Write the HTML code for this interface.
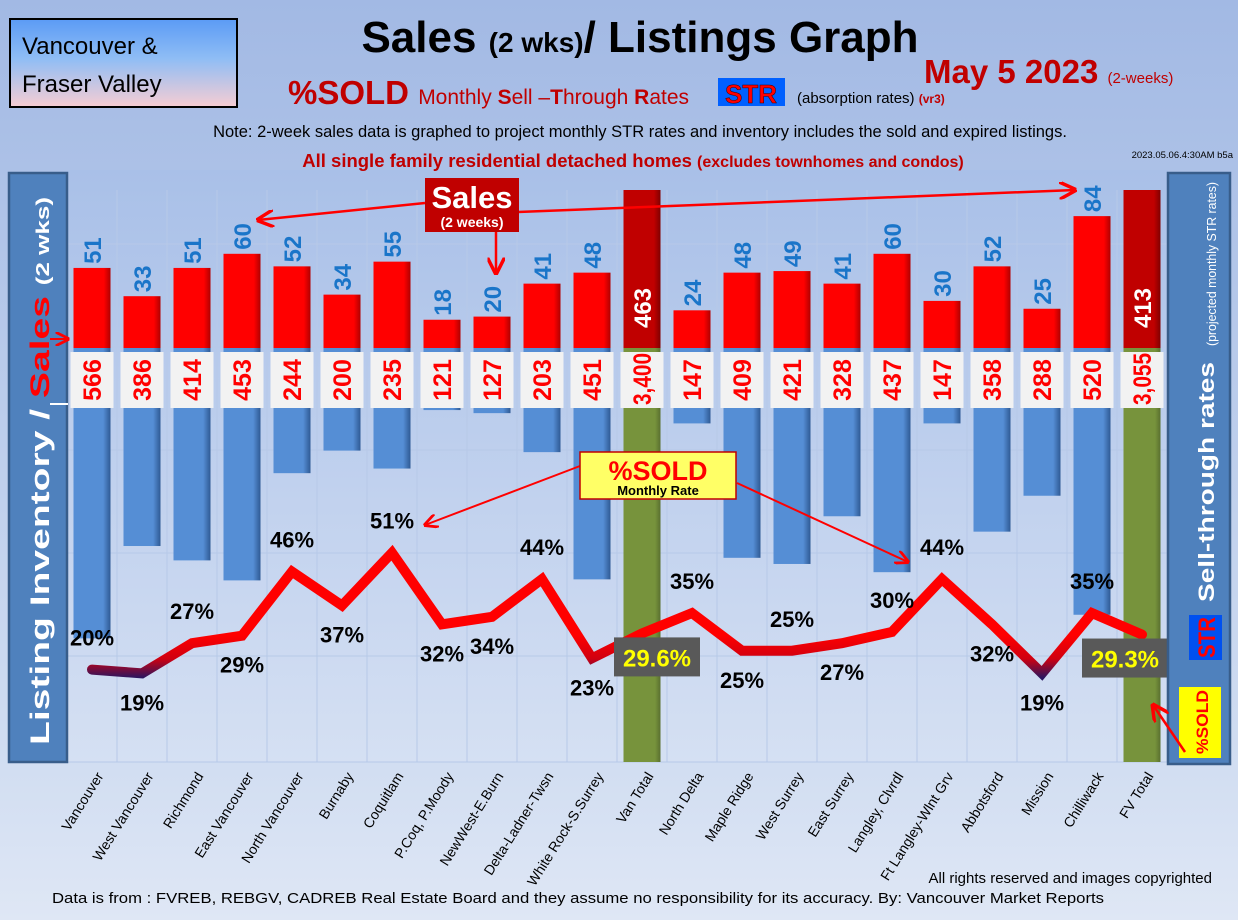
<!DOCTYPE html>
<html><head><meta charset="utf-8"><style>
html,body{margin:0;padding:0;background:#a6bde6;}
svg{display:block;font-family:"Liberation Sans",sans-serif;}
</style></head><body>
<svg id="chart" width="1238" height="920" viewBox="0 0 1238 920" xmlns="http://www.w3.org/2000/svg">
<defs>
<linearGradient id="bg" x1="0" y1="0" x2="0" y2="1"><stop offset="0" stop-color="#a2b9e4"/><stop offset="0.8" stop-color="#cfdcf1"/><stop offset="1" stop-color="#dfe7f5"/></linearGradient>
<linearGradient id="plotbg" x1="0" y1="0" x2="0" y2="1"><stop offset="0" stop-color="#a9c0e8"/><stop offset="1" stop-color="#d5e0f3"/></linearGradient>
<linearGradient id="boxg" x1="0" y1="0" x2="0" y2="1"><stop offset="0" stop-color="#5b9bf5"/><stop offset="0.45" stop-color="#8fbdf5"/><stop offset="1" stop-color="#f7cdd3"/></linearGradient>
<linearGradient id="blueg" x1="0" y1="0" x2="1" y2="0"><stop offset="0" stop-color="#558ed5"/><stop offset="0.8" stop-color="#558ed5"/><stop offset="1" stop-color="#2f5a94"/></linearGradient>
<linearGradient id="redg" x1="0" y1="0" x2="1" y2="0"><stop offset="0" stop-color="#ff0000"/><stop offset="0.82" stop-color="#ff0000"/><stop offset="1" stop-color="#b00000"/></linearGradient>
<linearGradient id="dredg" x1="0" y1="0" x2="1" y2="0"><stop offset="0" stop-color="#c00000"/><stop offset="0.82" stop-color="#c00000"/><stop offset="1" stop-color="#800000"/></linearGradient>
<linearGradient id="greeng" x1="0" y1="0" x2="1" y2="0"><stop offset="0" stop-color="#77933c"/><stop offset="0.85" stop-color="#77933c"/><stop offset="1" stop-color="#5a7030"/></linearGradient>
<linearGradient id="lineg" gradientUnits="userSpaceOnUse" x1="0" y1="635" x2="0" y2="678"><stop offset="0" stop-color="#ff0000"/><stop offset="0.55" stop-color="#d00010"/><stop offset="1" stop-color="#2a1660"/></linearGradient>
<marker id="arr" viewBox="0 0 10 10" refX="9" refY="5" markerWidth="7" markerHeight="7" orient="auto-start-reverse"><path d="M0,0 L10,5 L0,10" fill="none" stroke="#ff0000" stroke-width="2"/></marker>
</defs>
<rect x="0" y="0" width="1238" height="920" fill="url(#bg)"/>
<rect x="68" y="170" width="1100" height="592" fill="url(#plotbg)"/>
<g id="grid"></g>
<g id="bars"></g>
<g id="line"></g>
<g id="labels"></g>

<!-- header -->
<rect x="10" y="19" width="227" height="88" fill="url(#boxg)" stroke="#000" stroke-width="2"/>
<text x="22" y="54" font-size="24" fill="#000">Vancouver &amp;</text>
<text x="22" y="92" font-size="24" fill="#000">Fraser Valley</text>
<text x="640" y="52" text-anchor="middle" font-size="44" font-weight="bold" fill="#000">Sales <tspan font-size="28">(2 wks)</tspan>/ Listings Graph</text>
<text x="288" y="104" font-size="33" font-weight="bold" fill="#c00000">%SOLD <tspan font-size="21" font-weight="normal">Monthly <tspan font-weight="bold">S</tspan>ell –<tspan font-weight="bold">T</tspan>hrough <tspan font-weight="bold">R</tspan>ates</tspan></text>
<rect x="718" y="78" width="67" height="28" fill="#0060ff"/>
<text x="751" y="103" text-anchor="middle" font-size="26" font-weight="bold" fill="#ff0000" stroke="#300" stroke-width="0.5">STR</text>
<text x="797" y="103" font-size="15" fill="#000">(absorption rates) <tspan font-size="12" font-weight="bold" fill="#c00000">(vr3)</tspan></text>
<text x="924" y="83" font-size="33" font-weight="bold" fill="#c00000">May 5 2023 <tspan font-size="15" font-weight="normal">(2-weeks)</tspan></text>
<text x="640" y="137" text-anchor="middle" font-size="16.5" fill="#000">Note: 2-week sales data is graphed to project monthly STR rates and inventory includes the sold and expired listings.</text>
<text x="633" y="167" text-anchor="middle" font-size="18.5" font-weight="bold" fill="#c00000">All single family residential detached homes <tspan font-size="16">(excludes townhomes and condos)</tspan></text>
<text x="1233" y="158" text-anchor="end" font-size="9.5" fill="#000">2023.05.06.4:30AM b5a</text>

<!-- left panel -->
<rect x="9" y="173" width="58" height="589" fill="#4f81bd" stroke="#385d8a" stroke-width="2.5"/>
<text transform="translate(49,745) rotate(-90)" text-anchor="start" font-size="27" font-weight="bold" fill="#fff" textLength="548" lengthAdjust="spacingAndGlyphs">Listing Inventory / <tspan fill="#ff0000">Sales</tspan> <tspan font-size="18">(2  wks)</tspan></text>
<path d="M50,339 L68,339" stroke="#ff0000" stroke-width="2" marker-end="url(#arr)"/>
<path d="M50,404 L68,404" stroke="#fff" stroke-width="2"/>

<!-- right panel -->
<rect x="1168" y="173" width="62" height="591" fill="#4f81bd" stroke="#385d8a" stroke-width="2.5"/>
<text transform="translate(1214,602) rotate(-90)" text-anchor="start" font-size="22" font-weight="bold" fill="#fff" textLength="240" lengthAdjust="spacingAndGlyphs">Sell-through rates</text>
<text transform="translate(1216,346) rotate(-90)" text-anchor="start" font-size="13" fill="#fff" textLength="164" lengthAdjust="spacingAndGlyphs">(projected monthly STR rates)</text>
<rect x="1189" y="615" width="33" height="45" fill="#0050f0"/>
<text transform="translate(1215,658) rotate(-90)" text-anchor="start" font-size="24" font-weight="bold" fill="#ff0000" textLength="41" lengthAdjust="spacingAndGlyphs">STR</text>
<rect x="1179" y="687" width="42" height="71" fill="#ffff00"/>
<text transform="translate(1208,754) rotate(-90)" text-anchor="start" font-size="17" font-weight="bold" fill="#ff0000" textLength="64" lengthAdjust="spacingAndGlyphs">%SOLD</text>
<path d="M1185,752 L1153,705" stroke="#ff0000" stroke-width="2.5" marker-end="url(#arr)"/>

<!-- annotations -->
<path d="M425,203 L258,220" stroke="#ff0000" stroke-width="2.5" marker-end="url(#arr)"/>
<path d="M518,212 L1075,190" stroke="#ff0000" stroke-width="2.5" marker-end="url(#arr)"/>
<path d="M496,232 L496,273" stroke="#ff0000" stroke-width="2.5" marker-end="url(#arr)"/>
<rect x="425" y="178" width="94" height="54" fill="#c00000"/>
<text x="472" y="208" text-anchor="middle" font-size="31" font-weight="bold" fill="#fff">Sales</text>
<text x="472" y="227" text-anchor="middle" font-size="14" font-weight="bold" fill="#fff">(2 weeks)</text>
<path d="M580,466 L425,525" stroke="#ff0000" stroke-width="2" marker-end="url(#arr)"/>
<path d="M737,483 L908,562" stroke="#ff0000" stroke-width="2" marker-end="url(#arr)"/>
<rect x="580" y="452" width="156" height="47" fill="#ffff66" stroke="#c00000" stroke-width="1.5"/>
<text x="658" y="480" text-anchor="middle" font-size="27" font-weight="bold" fill="#ff0000">%SOLD</text>
<text x="658" y="495" text-anchor="middle" font-size="13" font-weight="bold" fill="#000">Monthly Rate</text>

<!-- footer -->
<text x="1212" y="883" text-anchor="end" font-size="15" fill="#000">All rights reserved and  images copyrighted</text>
<text x="52" y="903" font-size="15" fill="#000" textLength="1052" lengthAdjust="spacingAndGlyphs">Data is from : FVREB, REBGV, CADREB Real Estate Board and they assume no responsibility for its accuracy. By: Vancouver Market Reports</text>
<g id="xlabels"></g>
</svg>
<script>
const categories = ["Vancouver","West Vancouver","Richmond","East Vancouver","North Vancouver","Burnaby","Coquitlam","P.Coq, P.Moody","NewWest-E.Burn","Delta-Ladner-Twsn","White Rock-S.Surrey","Van Total","North Delta","Maple Ridge","West Surrey","East Surrey","Langley, Clvrdl","Ft Langley-Wlnt Grv","Abbotsford","Mission","Chilliwack","FV Total"];
const sales = [51,33,51,60,52,34,55,18,20,41,48,463,24,48,49,41,60,30,52,25,84,413];
const inventory = [566,386,414,453,244,200,235,121,127,203,451,3400,147,409,421,328,437,147,358,288,520,3055];
const inventoryLabels = ["566","386","414","453","244","200","235","121","127","203","451","3,400","147","409","421","328","437","147","358","288","520","3,055"];
const soldPct = [20,19,27,29,46,37,51,32,34,44,23,29.6,35,25,25,27,30,44,32,19,35,29.3];
const pctLabels = ["20%","19%","27%","29%","46%","37%","51%","32%","34%","44%","23%","29.6%","35%","25%","25%","27%","30%","44%","32%","19%","35%","29.3%"];
const pctPlacement = ["a","b","a","b","a","b","a","b","b","a","b","boxR","a","b","a","b","a","a","b","b","a","boxL"];
const isTotal = [0,0,0,0,0,0,0,0,0,0,0,1,0,0,0,0,0,0,0,0,0,1];

const NS="http://www.w3.org/2000/svg";
const PLOT_TOP=190, PLOT_BOT=762, BASE=348;
function xC(i){return 92+i*50;}
function ySales(v){return Math.max(PLOT_TOP, BASE - v*1.57);}
function yInv(v){return Math.min(PLOT_BOT, BASE + v*0.513);}
function yPct(v){return 745 - v*3.77;}
function mk(tag,attrs,parent){const e=document.createElementNS(NS,tag);for(const k in attrs)e.setAttribute(k,attrs[k]);parent.appendChild(e);return e;}

const grid=document.getElementById('grid');
for(let i=0;i<=categories.length;i++){
  const l=mk('line',{x1:67+i*50,x2:67+i*50,y1:190,y2:762,stroke:'#b7c9e8','stroke-width':1},grid);
  
  
}
[244,347,450,553,656,762].forEach(y=>{
  const l=mk('line',{x1:68,x2:1168,y1:y,y2:y,stroke:'#b7c9e8','stroke-width':1},grid);
  
  
});

const bars=document.getElementById('bars');
const labels=document.getElementById('labels');
const W=37;
categories.forEach((c,i)=>{
  const x=xC(i)-W/2;
  const yb=yInv(inventory[i]);
  const ib=mk('rect',{x:x,y:BASE,width:W,height:yb-BASE,fill:isTotal[i]?'url(#greeng)':'url(#blueg)'},bars);
  
  
  const ys=ySales(sales[i]);
  const sb=mk('rect',{x:x,y:ys,width:W,height:BASE-ys,fill:isTotal[i]?'url(#dredg)':'url(#redg)'},bars);
  
  
  let st;
  if(isTotal[i]){
    st=mk('text',{transform:`translate(${xC(i)+9},${BASE-40}) rotate(-90)`,'text-anchor':'middle','font-size':24,'font-weight':'bold',fill:'#fff'},labels);
  } else {
    st=mk('text',{transform:`translate(${xC(i)+9},${ys-4}) rotate(-90)`,'text-anchor':'start','font-size':24,'font-weight':'bold',fill:'#1a75c9'},labels);
  }
  st.textContent=String(sales[i]);
  
  
  const bw=43;
  const bx=mk('rect',{x:xC(i)-bw/2,y:352,width:bw,height:56,fill:'#f2f2f2'},labels);
  
  
  const long=inventoryLabels[i].length>3;
  const it=mk('text',{transform:`translate(${xC(i)+9},${long?405:380}) rotate(-90)`,'text-anchor':long?'start':'middle','font-size':25,'font-weight':'bold',fill:'#ff0000'},labels);
  if(long){it.setAttribute('textLength','52');it.setAttribute('lengthAdjust','spacingAndGlyphs');}
  it.textContent=inventoryLabels[i];
  
  
  const xl=mk('text',{transform:`translate(${xC(i)+12},776) rotate(-58)`,'text-anchor':'end','font-size':14,fill:'#000'},document.getElementById('xlabels'));
  xl.textContent=c;
  
  
});

const lineG=document.getElementById('line');
const pts=soldPct.map((v,i)=>xC(i)+','+yPct(v)).join(' ');
const pl=mk('polyline',{points:pts,fill:'none',stroke:'url(#lineg)','stroke-width':10,'stroke-linejoin':'miter','stroke-linecap':'round'},lineG);


soldPct.forEach((v,i)=>{
  const y=yPct(v);
  const p=pctPlacement[i];
  if(p==='boxR'||p==='boxL'){
    const bx0 = p==='boxR' ? xC(i)-28 : xC(i)-60;
    const b=mk('rect',{x:bx0,y:y+4,width:86,height:39,fill:'#595959'},lineG);
    
    
    const t=mk('text',{x:bx0+43,y:y+33,'text-anchor':'middle','font-size':24,'font-weight':'bold',fill:'#ffff00'},lineG);
    t.textContent=pctLabels[i];
    
    
  } else {
    const ty=p==='a'? y-24 : y+37;
    const t=mk('text',{x:xC(i),y:ty,'text-anchor':'middle','font-size':22,'font-weight':'bold',fill:'#000'},lineG);
    t.textContent=pctLabels[i];
    
    
  }
});
</script>
</body></html>
